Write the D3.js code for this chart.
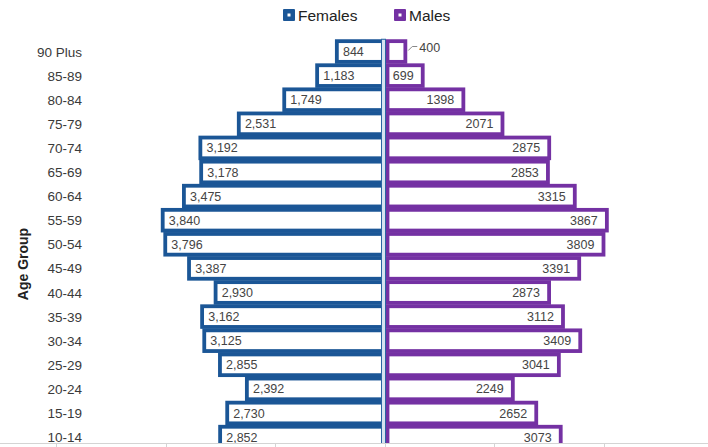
<!DOCTYPE html>
<html>
<head>
<meta charset="utf-8">
<script src="https://cdn.jsdelivr.net/npm/d3@7/dist/d3.min.js"></script>
<style>
  html, body { margin: 0; padding: 0; background: #fff; }
  svg { display: block; font-family: "Liberation Sans", Arial, sans-serif; }
</style>
</head>
<body>
<svg id="chart" width="708" height="447"></svg>
<script>
// Population pyramid: females to the left, males to the right
const ageGroups = ["90 Plus", "85-89", "80-84", "75-79", "70-74", "65-69", "60-64", "55-59",
  "50-54", "45-49", "40-44", "35-39", "30-34", "25-29", "20-24", "15-19", "10-14"];
const females = [844, 1183, 1749, 2531, 3192, 3178, 3475, 3840, 3796, 3387, 2930, 3162, 3125, 2855, 2392, 2730, 2852];
const males = [400, 699, 1398, 2071, 2875, 2853, 3315, 3867, 3809, 3391, 2873, 3112, 3409, 3041, 2249, 2652, 3073];
const seriesNames = ["Females", "Males"];

const W = 708, H = 447;
const FEMALE = "#1b5696", MALE = "#7431a3";
const svg = d3.select("#chart");

const x0 = 384;
const x = d3.scaleLinear().domain([-4000, 4000]).range([x0 - 232.5, x0 + 232.5]);
const step = 24.1;
const y = d3.scaleBand().domain(ageGroups)
  .range([51.5 - step / 2, 51.5 - step / 2 + step * ageGroups.length]).padding(0);

const sw = 3.8;
const outerH = 24.5;
const rectH = outerH - sw;

const rows = ageGroups.map((g, i) => ({ g, f: females[i], m: males[i] }));

// female bars
svg.append("g").selectAll("rect").data(rows).join("rect")
  .attr("x", d => x(-d.f) + sw / 2)
  .attr("width", d => (x0 - 1) - (x(-d.f) + sw / 2))
  .attr("y", d => y(d.g) + (step - rectH) / 2)
  .attr("height", rectH)
  .attr("fill", "#fff").attr("stroke", FEMALE).attr("stroke-width", sw);

// male bars
svg.append("g").selectAll("rect").data(rows).join("rect")
  .attr("x", x0 + 3.5)
  .attr("width", d => (x(d.m) - sw / 2) - (x0 + 3.5))
  .attr("y", d => y(d.g) + (step - rectH) / 2)
  .attr("height", rectH)
  .attr("fill", "#fff").attr("stroke", MALE).attr("stroke-width", sw);

// centre axis
svg.append("rect")
  .attr("x", x0 - 2.5).attr("width", 4)
  .attr("y", y(ageGroups[0]) + (step - outerH) / 2).attr("height", H)
  .attr("fill", "#d6e3f0").attr("stroke", "#2a65a3").attr("stroke-width", 1);

// female value labels, inside near the outer end
svg.append("g").selectAll("text").data(rows).join("text")
  .attr("x", d => x(-d.f) + 8)
  .attr("y", d => y(d.g) + step / 2 + 4.5)
  .attr("font-size", 12.5).attr("fill", "#444")
  .text(d => d3.format(",")(d.f));

// male value labels, inside near the outer end (outside when the bar is short)
svg.append("g").selectAll("text").data(rows).join("text")
  .attr("x", d => d.m < 500 ? x(d.m) + 12 : x(d.m) - 11)
  .attr("y", d => y(d.g) + step / 2 + (d.m < 500 ? 0.5 : 4.5))
  .attr("text-anchor", d => d.m < 500 ? "start" : "end")
  .attr("font-size", 12.5).attr("fill", "#444")
  .text(d => d.m);

// leader lines for labels placed outside
rows.filter(d => d.m < 500).forEach(d => {
  const xe = x(d.m), yc = y(d.g) + step / 2;
  svg.append("path")
    .attr("d", `M${xe + 1},${yc - 1} L${xe + 5},${yc - 5} L${xe + 10},${yc - 5}`)
    .attr("fill", "none").attr("stroke", "#888").attr("stroke-width", 1);
});

// age group labels
svg.append("g").selectAll("text").data(ageGroups).join("text")
  .attr("x", 82)
  .attr("y", d => y(d) + step / 2 + 5)
  .attr("text-anchor", "end")
  .attr("font-size", 13.5).attr("fill", "#3a3a3a")
  .text(d => d);

// axis title
svg.append("text")
  .attr("transform", "translate(28,264) rotate(-90)")
  .attr("text-anchor", "middle")
  .attr("font-size", 14).attr("font-weight", "bold").attr("fill", "#222")
  .text("Age Group");

// legend
const legend = svg.append("g");
const legendItems = [
  { name: seriesNames[0], color: FEMALE, x: 283 },
  { name: seriesNames[1], color: MALE, x: 394 }
];
legendItems.forEach(it => {
  legend.append("rect").attr("x", it.x).attr("y", 9).attr("width", 12).attr("height", 12)
    .attr("rx", 1).attr("fill", it.color);
  legend.append("rect").attr("x", it.x + 4.5).attr("y", 13.5).attr("width", 3).attr("height", 3)
    .attr("fill", "#fff");
  legend.append("text").attr("x", it.x + 15).attr("y", 20.5)
    .attr("font-size", 15.5).attr("fill", "#222").text(it.name);
});

// table rule along the bottom edge
const footTop = 443;
svg.append("rect").attr("x", 0).attr("y", footTop).attr("width", W).attr("height", H - footTop)
  .attr("fill", "#fff");
svg.append("line").attr("x1", 0).attr("x2", W).attr("y1", footTop + 0.5).attr("y2", footTop + 0.5)
  .attr("stroke", "#d4d4d4").attr("stroke-width", 1);
const cols = d3.scaleLinear().domain([0, 5]).range([56, 604]);
svg.append("g").selectAll("line").data(d3.range(6)).join("line")
  .attr("x1", d => Math.round(cols(d)) + 0.5).attr("x2", d => Math.round(cols(d)) + 0.5)
  .attr("y1", footTop).attr("y2", H)
  .attr("stroke", "#d4d4d4").attr("stroke-width", 1);
</script>
</body>
</html>
